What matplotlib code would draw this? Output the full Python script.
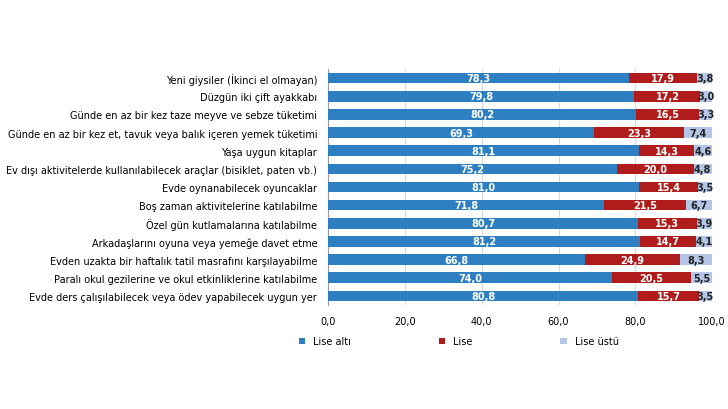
import matplotlib
matplotlib.use("Agg")
import matplotlib.pyplot as plt
import numpy as np

categories = ["Yeni giysiler (İkinci el olmayan)", "Düzgün iki çift ayakkabı",
    "Günde en az bir kez taze meyve ve sebze tüketimi",
    "Günde en az bir kez et, tavuk veya balık içeren yemek tüketimi",
    "Yaşa uygun kitaplar",
    "Ev dışı aktivitelerde kullanılabilecek araçlar (bisiklet, paten vb.)",
    "Evde oynanabilecek oyuncaklar", "Boş zaman aktivitelerine katılabilme",
    "Özel gün kutlamalarına katılabilme", "Arkadaşlarını oyuna veya yemeğe davet etme",
    "Evden uzakta bir haftalık tatil masrafını karşılayabilme",
    "Paralı okul gezilerine ve okul etkinliklerine katılabilme",
    "Evde ders çalışılabilecek veya ödev yapabilecek uygun yer"]
lise_alti = [78.3, 79.8, 80.2, 69.3, 81.1, 75.2, 81.0, 71.8, 80.7, 81.2, 66.8, 74.0, 80.8]
lise = [17.9, 17.2, 16.5, 23.3, 14.3, 20.0, 15.4, 21.5, 15.3, 14.7, 24.9, 20.5, 15.7]
lise_ustu = [3.8, 3.0, 3.3, 7.4, 4.6, 4.8, 3.5, 6.7, 3.9, 4.1, 8.3, 5.5, 3.5]
series_names = ["Lise altı", "Lise", "Lise üstü"]
colors = ["#2e7fc2", "#b01c1c", "#b4c6e7"]
txtcol = ["white", "white", "#222222"]

fig = plt.figure(figsize=(7.28, 4.10), dpi=100)
ax = fig.add_axes([0.451, 0.254, 0.527, 0.575])
y = np.arange(len(categories))
left = np.zeros(len(categories))
for vals, name, c, tc in zip([lise_alti, lise, lise_ustu], series_names, colors, txtcol):
    v = np.array(vals)
    ax.barh(y, v, left=left, height=0.58, color=c, label=name, zorder=3)
    for yi, l, vi in zip(y, left, v):
        ax.text(l + vi / 2, yi, f"{vi:.1f}".replace(".", ","), ha="center", va="center",
                fontsize=7, color=tc, fontweight="bold", zorder=4)
    left += v
ax.set_ylim(len(categories) - 0.5, -0.5)
ax.set_xlim(0, 100)
ax.set_xticks(np.arange(0, 101, 20))
ax.set_xticklabels([f"{t},0" for t in range(0, 101, 20)], fontsize=7)
ax.set_yticks(y)
ax.set_yticklabels(categories, fontsize=7)
ax.tick_params(length=0, pad=8)
ax.tick_params(axis="x", pad=8)
ax.grid(axis="x", color="#d9d9d9", lw=0.8, zorder=0)
for s in ["top", "right", "bottom"]:
    ax.spines[s].set_visible(False)
ax.spines["left"].set_color("#999999")
fig.legend(*ax.get_legend_handles_labels(), loc="center", bbox_to_anchor=(0.63, 0.165),
           ncol=3, frameon=False, fontsize=7, handlelength=0.7, handleheight=0.7,
           columnspacing=9)
fig.savefig("out.png", dpi=100)
